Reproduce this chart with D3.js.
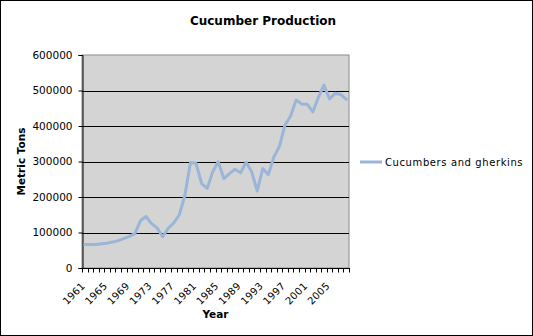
<!DOCTYPE html>
<html>
<head>
<meta charset="utf-8">
<script src="https://cdn.jsdelivr.net/npm/d3@7"></script>
<style>
  html, body { margin: 0; padding: 0; background: #fff; }
  svg { display: block; font-family: "DejaVu Sans", Verdana, sans-serif; }
</style>
</head>
<body>
<svg id="chart" width="533" height="336"></svg>
<script>
// Annual cucumber and gherkin production, metric tons
const years = d3.range(1961, 2009);
const production = [
  66000, 66000, 66000, 68000, 70000, 73000, 77000, 83000, 89000, 97000,
  133000, 145000, 125000, 113000, 88000, 112000, 127000, 150000, 205000, 297000,
  295000, 238000, 224000, 271000, 299000, 252000, 266000, 278000, 268000, 298000,
  271000, 217000, 280000, 263000, 313000, 343000, 403000, 428000, 473000, 462000,
  461000, 440000, 481000, 515000, 476000, 492000, 489000, 475000
];
const yTicks = [0, 100000, 200000, 300000, 400000, 500000, 600000];
const xLabelYears = years.filter((y, i) => i % 4 === 0);
const seriesName = "Cucumbers and gherkins";

const W = 533, H = 336;
const plot = { left: 82, top: 55, right: 349, bottom: 268 };
const svg = d3.select("#chart");

// outer frame
svg.append("rect").attr("x", 0.5).attr("y", 0.5)
  .attr("width", W - 1).attr("height", H - 1)
  .attr("fill", "#fff").attr("stroke", "#000");

const x = d3.scaleBand().domain(years).range([plot.left, plot.right]).padding(0);
const y = d3.scaleLinear().domain([0, 600000]).range([plot.bottom, plot.top]);
const cx = d => x(d) + x.bandwidth() / 2;

// plot background
svg.append("rect")
  .attr("x", plot.left).attr("y", plot.top)
  .attr("width", plot.right - plot.left).attr("height", plot.bottom - plot.top)
  .attr("fill", "#d4d4d4").attr("stroke", "#8c8c8c");

// horizontal gridlines
svg.append("g").selectAll("line").data(yTicks.filter(v => v > 0 && v < 600000)).join("line")
  .attr("x1", plot.left).attr("x2", plot.right)
  .attr("y1", d => Math.round(y(d)) + 0.5).attr("y2", d => Math.round(y(d)) + 0.5)
  .attr("stroke", "#000").attr("stroke-width", 1);

// y axis
const yAxis = svg.append("g")
  .attr("transform", `translate(${plot.left + 0.5},0)`)
  .call(d3.axisLeft(y).tickValues(yTicks).tickFormat(d3.format("d")).tickSize(4).tickPadding(6));
yAxis.select(".domain").attr("stroke", "#000");
yAxis.selectAll(".tick line").attr("stroke", "#000");
yAxis.selectAll("text").attr("font-size", "10.5px").attr("fill", "#000")
  .attr("font-family", "DejaVu Sans, Verdana, sans-serif");

// x axis: ticks between categories
const xAxisG = svg.append("g").attr("transform", `translate(0,${plot.bottom + 0.5})`);
xAxisG.append("line").attr("x1", plot.left).attr("x2", plot.right + 1)
  .attr("stroke", "#000");
const tickPos = years.map(d => x(d)).concat([plot.right]);
xAxisG.selectAll("line.tk").data(tickPos).join("line").attr("class", "tk")
  .attr("x1", d => Math.round(d) + 0.5).attr("x2", d => Math.round(d) + 0.5)
  .attr("y1", 0).attr("y2", 4).attr("stroke", "#000");
xAxisG.selectAll("text").data(xLabelYears).join("text")
  .attr("transform", d => `translate(${cx(d) - 4},13) rotate(-45)`)
  .attr("text-anchor", "end")
  .attr("dy", "0.7em")
  .attr("font-size", "10px")
  .attr("letter-spacing", "0.3px")
  .attr("fill", "#000")
  .text(d => d);

// series line
svg.append("path")
  .datum(years.map((yr, i) => [yr, production[i]]))
  .attr("fill", "none")
  .attr("stroke", "#9bb5d9")
  .attr("stroke-width", 3)
  .attr("stroke-linejoin", "round")
  .attr("stroke-linecap", "round")
  .attr("d", d3.line().x(d => cx(d[0])).y(d => y(d[1])));

// title
svg.append("text").attr("x", 263).attr("y", 25)
  .attr("text-anchor", "middle").attr("font-size", "12px").attr("font-weight", "bold")
  .text("Cucumber Production");

// axis titles
svg.append("text").attr("x", (plot.left + plot.right) / 2).attr("y", 318)
  .attr("text-anchor", "middle").attr("font-size", "10.5px").attr("font-weight", "bold")
  .text("Year");
svg.append("text")
  .attr("transform", `translate(25,${(plot.top + plot.bottom) / 2}) rotate(-90)`)
  .attr("text-anchor", "middle").attr("font-size", "10.5px").attr("font-weight", "bold")
  .text("Metric Tons");

// legend
const lg = svg.append("g").attr("transform", "translate(360,162)");
lg.append("line").attr("x1", 0).attr("x2", 22).attr("y1", 0).attr("y2", 0)
  .attr("stroke", "#9bb5d9").attr("stroke-width", 3);
lg.append("text").attr("x", 25).attr("y", 0).attr("dy", "0.35em")
  .attr("font-size", "10px").attr("letter-spacing", "0.6px")
  .text(seriesName);
</script>
</body>
</html>
